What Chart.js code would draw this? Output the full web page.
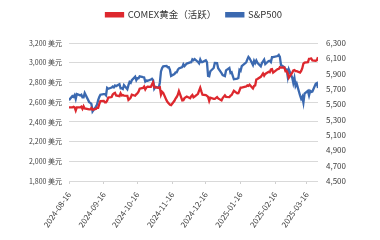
<!DOCTYPE html>
<html><head><meta charset="utf-8">
<script src="https://cdn.jsdelivr.net/npm/chart.js@4"></script>
<style>html,body{margin:0;padding:0;background:#fff}#w{width:380px;height:240px}</style>
</head><body><div id="w"><canvas id="c"></canvas></div>
<script>
const seriesNames = ['COMEX黄金（活跃）', 'S&P500'];
const dates = [
'2024-08-16','2024-08-19','2024-08-20','2024-08-21','2024-08-22','2024-08-23','2024-08-26','2024-08-27','2024-08-28','2024-08-29','2024-08-30',
'2024-09-03','2024-09-04','2024-09-05','2024-09-06','2024-09-09','2024-09-10','2024-09-11','2024-09-12','2024-09-13','2024-09-16','2024-09-17','2024-09-18','2024-09-19','2024-09-20','2024-09-23','2024-09-24','2024-09-25','2024-09-26','2024-09-27','2024-09-30',
'2024-10-01','2024-10-02','2024-10-03','2024-10-04','2024-10-07','2024-10-08','2024-10-09','2024-10-10','2024-10-11','2024-10-14','2024-10-15','2024-10-16','2024-10-17','2024-10-18','2024-10-21','2024-10-22','2024-10-23','2024-10-24','2024-10-25','2024-10-28','2024-10-29','2024-10-30','2024-10-31',
'2024-11-01','2024-11-04','2024-11-05','2024-11-06','2024-11-07','2024-11-08','2024-11-11','2024-11-12','2024-11-13','2024-11-14','2024-11-15','2024-11-18','2024-11-19','2024-11-20','2024-11-21','2024-11-22','2024-11-25','2024-11-26','2024-11-27','2024-11-29',
'2024-12-02','2024-12-03','2024-12-04','2024-12-05','2024-12-06','2024-12-09','2024-12-10','2024-12-11','2024-12-12','2024-12-13','2024-12-16','2024-12-17','2024-12-18','2024-12-19','2024-12-20','2024-12-23','2024-12-24','2024-12-26','2024-12-27','2024-12-30','2024-12-31',
'2025-01-02','2025-01-03','2025-01-06','2025-01-07','2025-01-08','2025-01-10','2025-01-13','2025-01-14','2025-01-15','2025-01-16','2025-01-17','2025-01-21','2025-01-22','2025-01-23','2025-01-24','2025-01-27','2025-01-28','2025-01-29','2025-01-30','2025-01-31',
'2025-02-03','2025-02-04','2025-02-05','2025-02-06','2025-02-07','2025-02-10','2025-02-11','2025-02-12','2025-02-13','2025-02-14','2025-02-18','2025-02-19','2025-02-20','2025-02-21','2025-02-24','2025-02-25','2025-02-26','2025-02-27','2025-02-28',
'2025-03-03','2025-03-04','2025-03-05','2025-03-06','2025-03-07','2025-03-10','2025-03-11','2025-03-12','2025-03-13','2025-03-14','2025-03-17','2025-03-18','2025-03-19','2025-03-20','2025-03-21','2025-03-24','2025-03-25','2025-03-26'
];
const gold = [
2546,2546,2552,2547,2515,2546,2546,2554,2532,2558,2536,
2526,2526,2541,2524,2531,2544,2543,2580,2610,2612,2598,2598,2614,2646,2652,2678,2688,2694,2668,2660,
2690,2668,2672,2667,2665,2622,2632,2646,2676,2665,2679,2691,2707,2736,2744,2758,2729,2749,2756,2755,2781,2800,2749,
2749,2746,2750,2676,2705,2694,2618,2599,2586,2573,2570,2614,2637,2652,2674,2712,2618,2620,2641,2657,
2640,2660,2672,2649,2656,2685,2716,2746,2709,2675,2672,2664,2653,2613,2645,2634,2634,2652,2637,2617,2641,
2669,2654,2651,2665,2672,2715,2689,2691,2718,2748,2748,2759,2770,2765,2777,2739,2764,2769,2829,2835,
2857,2873,2891,2869,2886,2908,2903,2931,2935,2900,2935,2936,2955,2951,2952,2914,2916,2893,2848,
2900,2922,2925,2915,2914,2899,2917,2944,2991,3001,3006,3040,3041,3043,3023,3020,3025,3056
];
const spx = [
5554,5608,5597,5621,5571,5635,5617,5626,5592,5592,5648,
5529,5520,5503,5408,5471,5496,5554,5596,5626,5633,5635,5618,5714,5703,5719,5733,5722,5745,5738,5762,
5709,5710,5700,5751,5696,5751,5792,5780,5815,5860,5815,5842,5841,5865,5854,5851,5797,5810,5808,5824,5833,5814,5705,
5729,5713,5783,5929,5973,5996,6001,5984,5985,5949,5871,5894,5917,5917,5949,5969,5987,6022,5999,6032,
6047,6050,6086,6075,6090,6053,6035,6084,6051,6051,6074,6051,5872,5867,5931,5974,6040,6038,5971,5907,5882,
5869,5942,5975,5909,5918,5827,5836,5843,5950,5937,5997,6049,6086,6119,6101,6012,6068,6039,6071,6041,
5995,6038,6061,6084,6026,6066,6069,6052,6115,6115,6130,6144,6118,6013,5983,5955,5956,5862,5955,
5850,5778,5843,5739,5770,5615,5572,5599,5522,5639,5675,5615,5675,5663,5668,5768,5777,5712
];
const xTickDates = ['2024-08-16','2024-09-16','2024-10-16','2024-11-16','2024-12-16','2025-01-16','2025-02-16','2025-03-16'];
const leftTicks = [1800,2000,2200,2400,2600,2800,3000,3200];
const rightTicks = [4500,4700,4900,5100,5300,5500,5700,5900,6100,6300];

const day0 = Date.UTC(2024,7,16);
const dayOf = s => { const p = s.split('-').map(Number); return Math.round((Date.UTC(p[0],p[1]-1,p[2]) - day0)/86400000); };
const lastDay = dayOf(dates[dates.length-1]);
const FONT = "'Liberation Sans Narrow','Noto Sans CJK SC',sans-serif";
const fmt = v => v.toLocaleString('en-US');

const legendHeight = {
  id:'legendHeight',
  beforeLayout(chart){
    const lg = chart.legend;
    if (lg && !lg._fixedH){
      const f = lg.fit.bind(lg);
      lg.fit = function(){ f(); this.height = 43; };
      lg._fixedH = true;
    }
  }
};

new Chart(document.getElementById('c'), {
  type: 'line',
  data: {
    datasets: [
      { label: seriesNames[0], data: dates.map((d,i)=>({x:dayOf(d), y:gold[i]})), yAxisID:'yL',
        borderColor:'#dd282e', backgroundColor:'#dd282e', borderWidth:2.3, pointRadius:0, tension:0 },
      { label: seriesNames[1], data: dates.map((d,i)=>({x:dayOf(d), y:spx[i]})), yAxisID:'yR',
        borderColor:'#3b69b0', backgroundColor:'#3b69b0', borderWidth:2.3, pointRadius:0, tension:0 }
    ]
  },
  plugins:[legendHeight],
  options: {
    responsive:true, maintainAspectRatio:false, animation:false,
    layout:{ padding:{ top:0, left:8, right:0, bottom:0 } },
    plugins:{
      legend:{ position:'top', labels:{ boxWidth:17, boxHeight:3, padding:10, color:'#333333',
        font:{ family:FONT, size:9.5 } } },
      tooltip:{ enabled:false }
    },
    scales:{
      x:{ type:'linear', min:0, max:lastDay,
        afterBuildTicks: ax => { ax.ticks = xTickDates.map(d=>({value:dayOf(d)})); },
        afterFit: ax => { ax.height = 59; },
        ticks:{ autoSkip:false, minRotation:55, maxRotation:55, color:'#404040', padding:6,
          font:{ family:FONT, size:8 },
          callback: v => { const i = xTickDates.findIndex(d=>dayOf(d)===v); return i>=0 ? xTickDates[i] : ''; } },
        grid:{ drawOnChartArea:false, drawTicks:true, tickLength:3, color:'#d0d0d0' }, border:{ display:false } },
      yL:{ position:'left', min:1800, max:3200,
        afterBuildTicks: ax => { ax.ticks = leftTicks.map(v=>({value:v})); },
        afterFit: ax => { ax.width = 61; },
        ticks:{ color:'#404040', padding:7, font:{ family:FONT, size:7 }, callback: v => fmt(v)+' 美元' },
        grid:{ color:'#d9d9d9', lineWidth:1, drawTicks:false }, border:{ display:false } },
      yR:{ position:'right', min:4500, max:6300,
        afterBuildTicks: ax => { ax.ticks = rightTicks.map(v=>({value:v})); },
        afterFit: ax => { ax.width = 62; },
        ticks:{ color:'#404040', padding:8, font:{ family:FONT, size:8 }, callback: v => fmt(v) },
        grid:{ display:false, drawTicks:false }, border:{ display:false } }
    }
  }
});
</script></body></html>
